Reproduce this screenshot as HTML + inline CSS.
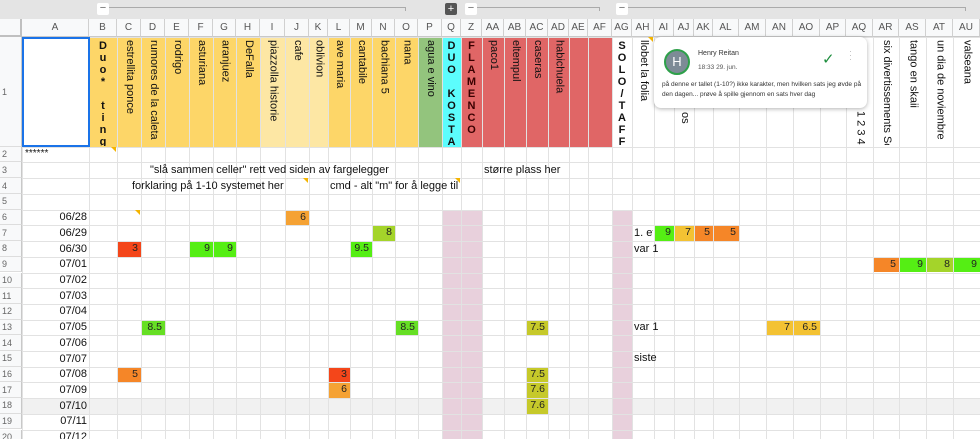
<!DOCTYPE html>
<html><head><meta charset="utf-8">
<style>
html,body{margin:0;width:980px;height:439px;overflow:hidden}
body{background:#fff;font-family:"Liberation Sans",Arial,sans-serif;position:relative}
.a{position:absolute;box-sizing:border-box}
.vl{position:absolute;width:1px;background:#e2e2e2}
.hl{position:absolute;height:1px;background:#e2e2e2}
.ch{position:absolute;top:19px;height:18px;font-size:10px;color:#555;text-align:center;line-height:18px;border-right:1px solid #d0d0d0;border-bottom:1px solid #c8c8c8;background:#f8f9fa;box-sizing:border-box}
.rh{position:absolute;left:0;width:22px;font-size:9px;color:#666;background:#f8f9fa;border-right:1px solid #c8c8c8;border-bottom:1px solid #ddd;box-sizing:border-box;padding-left:2px;display:flex;align-items:center}
.vt{position:absolute;writing-mode:vertical-rl;font-size:11px;color:#111;white-space:nowrap;overflow:hidden}
.st{position:absolute;font-size:11px;font-weight:bold;color:#111;text-align:center;white-space:pre}
.cell{position:absolute;font-size:10.5px;color:#222;text-align:right;padding-right:3px;box-sizing:border-box}
.t{position:absolute;font-size:11px;color:#111;white-space:nowrap}
</style></head><body>
<div class="a" style="left:0;top:0;width:980px;height:19px;background:#e4e4e4"></div>
<div class="a" style="left:0;top:19px;width:22px;height:18px;background:#f8f9fa;border-right:2px solid #c0c0c0;border-bottom:2px solid #c0c0c0"></div>
<div id="g"></div>
<div class="a" style="left:654px;top:37px;width:213px;height:71px;background:#fff;border-radius:7px;box-shadow:0 1px 4px rgba(0,0,0,.3)">
  <div class="a" style="left:10px;top:12px;width:26px;height:26px;border-radius:50%;background:#7d8b96;border:2px solid #2ea04a;color:#fff;font-size:13px;text-align:center;line-height:22px">H</div>
  <div class="a" style="left:44px;top:13px;font-size:7px;color:#333">Henry Reitan</div>
  <div class="a" style="left:44px;top:27px;font-size:6.5px;color:#555">18:33 29. jun.</div>
  <div class="a" style="left:168px;top:13px;font-size:15px;color:#1e8e3e">&#10003;</div>
  <div class="a" style="left:195px;top:12px;font-size:9px;color:#bbb;line-height:4px">·<br>·<br>·</div>
  <div class="a" style="left:8px;top:43px;width:200px;font-size:6.5px;color:#333;line-height:10px">på denne er tallet (1-10?) ikke karakter, men hvilken sats jeg øvde på den dagen... prøve å spille gjennom en sats hver dag</div>
</div>
<script>
const letters=["A","B","C","D","E","F","G","H","I","J","K","L","M","N","O","P","Q","Z","AA","AB","AC","AD","AE","AF","AG","AH","AI","AJ","AK","AL","AM","AN","AO","AP","AQ","AR","AS","AT","AU"];
const edges=[22,89,117,141,165,189,213,236,260,285,309,328,350,372,395,418,442,461,482,504,526,548,569,588,612,632,654,674,694,713,739,766,793,820,846,873,899,926,953,980];
const rowTops=[37,147,162,178,194];
for(let i=5;i<20;i++) rowTops.push(209.7+(i-5)*15.7);
const dates=["06/28","06/29","06/30","07/01","07/02","07/03","07/04","07/05","07/06","07/07","07/08","07/09","07/10","07/11","07/12"];
const headerFill={B:"#fdd668",C:"#fdd668",D:"#fdd668",E:"#fdd668",F:"#fdd668",G:"#fdd668",H:"#fdd668",I:"#fde7a4",J:"#fde7a4",K:"#fde7a4",L:"#fdd668",M:"#fdd668",N:"#fdd668",O:"#fdd668",P:"#93c47d",Q:"#5cfdfd",Z:"#e06666",AA:"#e06666",AB:"#e06666",AC:"#e06666",AD:"#e06666",AE:"#e06666",AF:"#e06666"};
const songTitles={C:"estrellita ponce",D:"rumores de la caleta",E:"rodrigo",F:"asturiana",G:"aranjuez",H:"DeFalla",I:"piazzolla historie",J:"cafe",K:"oblivion",L:"ave maria",M:"cantabile",N:"bachiana 5",O:"nana",P:"agua e vino",AA:"paco1",AB:"eltempul",AC:"caseras",AD:"habichuela",AH:"llobet la folia",AJ:"os",AQ:"1 2 3 4",AR:"six divertissements Sor",AS:"tango en skaii",AT:"un dia de noviembre",AU:"valseana"};
const groupTitles={B:"D\nu\no\n*\n\nt\ni\nn\ng",Q:"D\nU\nO\n\nK\nO\nS\nT\nA",Z:"F\nL\nA\nM\nE\nN\nC\nO",AG:"S\nO\nL\nO\n/\nT\nA\nF\nF"};
const groupLH={B:12,Q:12,Z:12,AG:12};
// scores: [row, column, value]
const scoreRows=[6,7,8,8,8,8,13,13,16,16,17,7,7,7,7,9,9,9,9,13,13,13,16,17,18];
const scoreCols=["J","N","C","F","G","M","D","O","C","L","L","AI","AJ","AK","AL","AR","AS","AT","AU","AN","AO","AC","AC","AC","AC"];
const scoreVals=["6","8","3","9","9","9.5","8.5","8.5","5","3","6","9","7","5","5","5","9","8","9","7","6.5","7.5","7.5","7.6","7.6"];
const g=document.getElementById('g');
function ci(l){return letters.indexOf(l)}
function add(cls,name,inter,style,txt){const d=document.createElement('div');d.className=cls;


d.setAttribute('style',style);if(txt!==undefined)d.textContent=txt;g.appendChild(d);return d}
function color(v){v=parseFloat(v);if(v<=3)return"#f4461a";if(v<=5)return"#f58628";if(v<=6)return"#f5a234";if(v<=7)return"#f3c233";if(v<7.9)return"#c6c92a";if(v<=8)return"#a4d42a";if(v<=8.5)return"#66df24";return"#55ee14"}
add('a','row-18-highlight','false',`left:22px;top:${rowTops[17]}px;width:958px;height:15.7px;background:#f1f1f1`);
letters.forEach((l,i)=>{if(headerFill[l])add('a','header-fill-'+l.toLowerCase(),'false',`left:${edges[i]}px;top:37px;width:${edges[i+1]-edges[i]}px;height:110px;background:${headerFill[l]}`)});
["Q","Z","AG"].forEach(l=>{const i=ci(l);add('a','pink-column-'+l.toLowerCase(),'false',`left:${edges[i]}px;top:209.7px;width:${edges[i+1]-edges[i]}px;height:240px;background:#e8d0dc`)});
scoreVals.forEach((v,k)=>{const i=ci(scoreCols[k]);const r=scoreRows[k];
add('cell','score-'+scoreCols[k].toLowerCase()+'-'+r,'true',`left:${edges[i]}px;top:${rowTops[r-1]}px;width:${edges[i+1]-edges[i]}px;height:15.7px;line-height:15.7px;background:${color(v)}`,v)});
edges.forEach((x)=>{const e=document.createElement('div');e.className='vl';e.style.left=x+'px';e.style.top='37px';e.style.height='402px';g.appendChild(e)});
rowTops.forEach(y=>{const e=document.createElement('div');e.className='hl';e.style.left='22px';e.style.top=y+'px';e.style.width='958px';g.appendChild(e)});
letters.forEach((l,i)=>add('ch','column-header-'+l.toLowerCase(),'true',`left:${edges[i]}px;width:${edges[i+1]-edges[i]}px`,l));
rowTops.forEach((y,i)=>{const h=(rowTops[i+1]||y+15.7)-y;add('rh','row-header-'+(i+1),'true',`top:${y}px;height:${h}px`,String(i+1))});
Object.keys(songTitles).forEach(l=>{const i=ci(l);const w=edges[i+1]-edges[i];let top=40;if(l=="AJ")top=112;if(l=="AQ")top=111;
add('vt','song-title-'+l.toLowerCase(),'false',`left:${edges[i]+w/2-7}px;top:${top}px;height:${147-top-2}px;width:14px`,songTitles[l])});
Object.keys(groupTitles).forEach(l=>{const i=ci(l);const w=edges[i+1]-edges[i];
add('st','group-title-'+l.toLowerCase(),'false',`left:${edges[i]}px;top:40px;width:${w}px;height:106px;overflow:hidden;line-height:${groupLH[l]}px;`+(l=="Z"?"color:#3a0000;":""),groupTitles[l])});
dates.forEach((d,k)=>add('t','date-'+(k+6),'false',`left:22px;width:65px;text-align:right;top:${rowTops[k+5]+1.5}px`,d));
add('t','stars-note','false','left:25px;top:148px;font-size:10px','******');
add('t','merge-cells-note','false','left:150px;top:164px','"slå sammen celler" rett ved siden av fargelegger');
add('t','more-space-note','false','left:484px;top:164px','større plass her');
add('t','scale-explanation-note','false','left:132px;top:180px','forklaring på 1-10 systemet her');
add('t','shortcut-note','false','left:330px;top:180px;width:131px;overflow:hidden','cmd - alt "m" for å legge til "flytende');
add('t','etude-note','false','left:634px;top:227px;width:19px;overflow:hidden','1. etude');
add('t','var-note-1','false','left:634px;top:243px','var 1');
add('t','var-note-2','false','left:634px;top:321px','var 1');
add('t','last-note','false','left:634px;top:352px','siste');
add('a','selected-cell-a1','true','left:22px;top:37px;width:68px;height:110px;border:2px solid #1a73e8');
[[103,406],[471,600],[622,966]].forEach((b,k)=>{
add('a','group-toggle-'+(k+1),'true',`left:${b[0]-6}px;top:3px;width:12px;height:12px;background:#fff;border-radius:2px;font-size:11px;line-height:11px;text-align:center;color:#666`,'−');
add('a','group-line-'+(k+1),'false',`left:${b[0]+6}px;top:7px;width:${b[1]-b[0]-6}px;height:4px;border-top:1px solid #aaa;border-right:1px solid #aaa`)});
add('a','expand-group-button','true','left:445px;top:3px;width:12px;height:12px;background:#555;border-radius:2px;font-size:11px;line-height:12px;text-align:center;color:#fff','+');
[[117,147],[141,209.7],[309,178],[461,178],[654,37]].forEach((p,k)=>add('a','comment-marker-'+(k+1),'false',`left:${p[0]-6}px;top:${p[1]}px;width:0;height:0;border-left:5px solid transparent;border-top:5px solid #f4b400`));
</script>
</body></html>
